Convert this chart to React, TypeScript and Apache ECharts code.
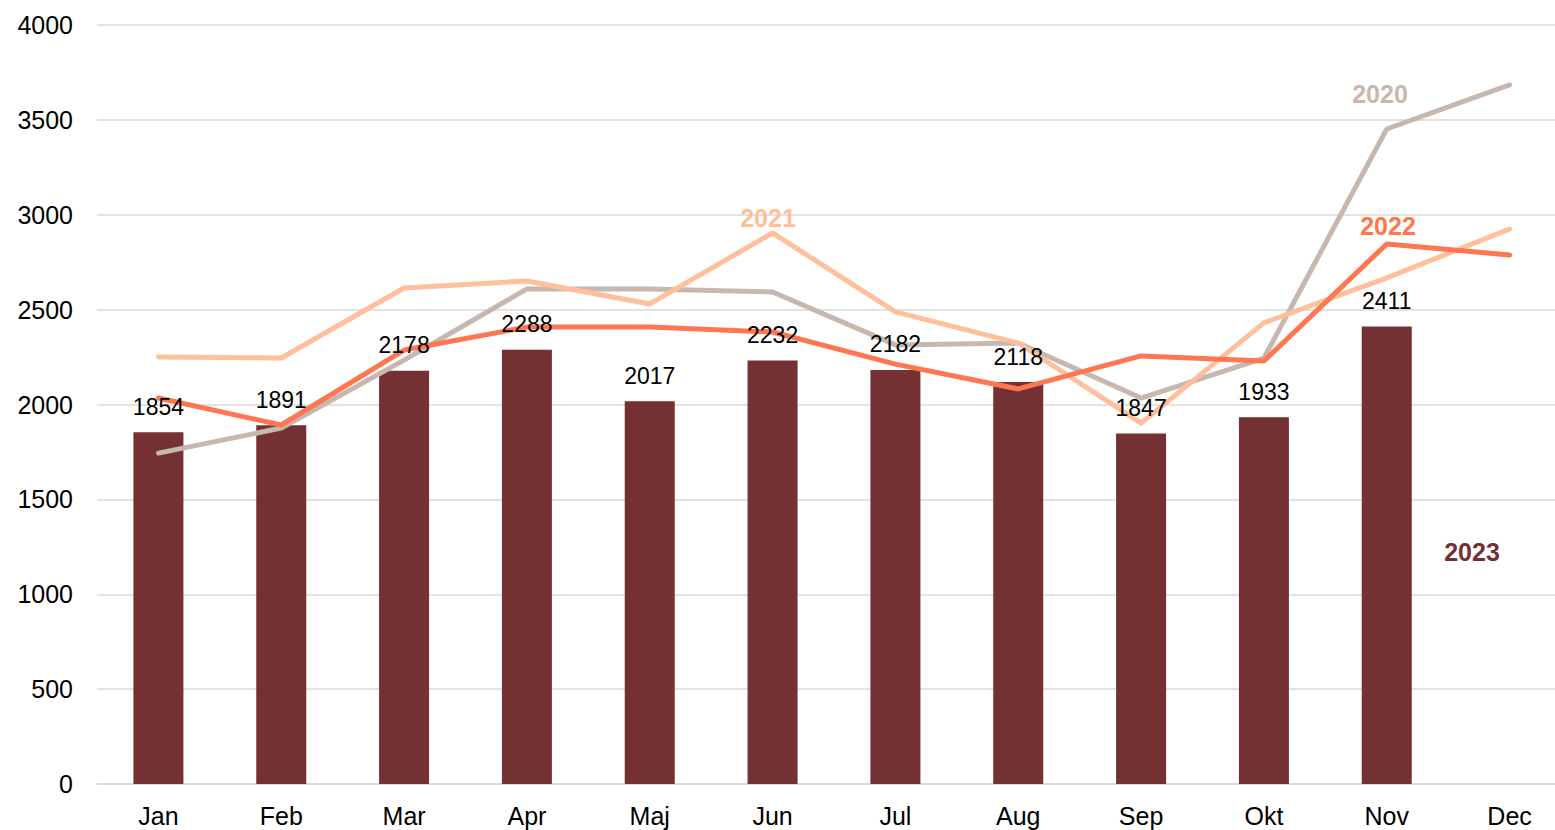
import React, { useEffect, useRef } from "react";
import * as echarts from "echarts";

const months = ["Jan", "Feb", "Mar", "Apr", "Maj", "Jun", "Jul", "Aug", "Sep", "Okt", "Nov", "Dec"];
const values2023 = [1854, 1891, 2178, 2288, 2017, 2232, 2182, 2118, 1847, 1933, 2411, null];
const values2022 = [2034, 1892, 2287, 2408, 2408, 2382, 2213, 2082, 2256, 2229, 2846, 2788];
const values2021 = [2250, 2245, 2614, 2651, 2530, 2904, 2488, 2324, 1902, 2430, 2667, 2925];
const values2020 = [1744, 1876, 2234, 2609, 2609, 2593, 2314, 2324, 2034, 2245, 3452, 3684];
const yTicks = [0, 500, 1000, 1500, 2000, 2500, 3000, 3500, 4000];

const FONT = "'Liberation Sans', Arial, sans-serif";

export default function App() {
  const ref = useRef<HTMLDivElement>(null);
  useEffect(() => {
    if (!ref.current) return;
    const chart = echarts.init(ref.current, null, { renderer: "svg" });
    const lineSeries = (name: string, data: (number | null)[], color: string, z: number) => ({
      name,
      type: "line",
      data,
      symbol: "none",
      z,
      lineStyle: { color, width: 5, cap: "round", join: "round" },
      itemStyle: { color },
    });
    const seriesLabel = (text: string, x: number, y: number, color: string) => ({
      type: "text",
      x,
      y,
      z: 100,
      style: {
        text,
        fill: color,
        font: `bold 25px ${FONT}`,
        textAlign: "center",
        textVerticalAlign: "middle",
      },
    });
    chart.setOption({
      animation: false,
      backgroundColor: "#ffffff",
      textStyle: { fontFamily: FONT },
      grid: { left: 97, right: 0, top: 25, bottom: 46, containLabel: false },
      xAxis: {
        type: "category",
        data: months,
        axisLine: { show: true, lineStyle: { color: "#D9D9D9", width: 1.5 } },
        axisTick: { show: false },
        axisLabel: { color: "#000", fontSize: 25, fontFamily: FONT, margin: 19 },
      },
      yAxis: {
        type: "value",
        min: yTicks[0],
        max: yTicks[yTicks.length - 1],
        interval: 500,
        axisLine: { show: false },
        axisTick: { show: false },
        axisLabel: {
          color: "#000",
          fontSize: 25,
          fontFamily: FONT,
          margin: 24,
          formatter: (v: number) => String(v),
        },
        splitLine: { lineStyle: { color: "#D9D9D9", width: 1.5 } },
      },
      series: [
        {
          name: "2023",
          type: "bar",
          data: values2023,
          barWidth: 50,
          itemStyle: { color: "#743133" },
          z: 1,
        },
        lineSeries("2020", values2020, "#C8B7AE", 3),
        lineSeries("2021", values2021, "#FFBF9A", 4),
        lineSeries("2022", values2022, "#FF7650", 5),
        {
          name: "2023 labels",
          type: "bar",
          data: values2023,
          barWidth: 50,
          barGap: "-100%",
          itemStyle: { color: "rgba(0,0,0,0)" },
          z: 10,
          silent: true,
          label: {
            show: true,
            position: "top",
            distance: 14,
            color: "#000",
            fontSize: 23,
            fontFamily: FONT,
          },
        },
      ],
      graphic: [
        seriesLabel("2020", 1380, 94, "#C8B7AE"),
        seriesLabel("2021", 768, 218, "#FFBF9A"),
        seriesLabel("2022", 1388, 226, "#FF7650"),
        seriesLabel("2023", 1472, 552, "#743133"),
      ],
    });
    return () => chart.dispose();
  }, []);
  return (
    <div
      ref={ref}
      style={{ position: "fixed", left: 0, top: 0, width: 1571, height: 830, background: "#fff" }}
    />
  );
}
